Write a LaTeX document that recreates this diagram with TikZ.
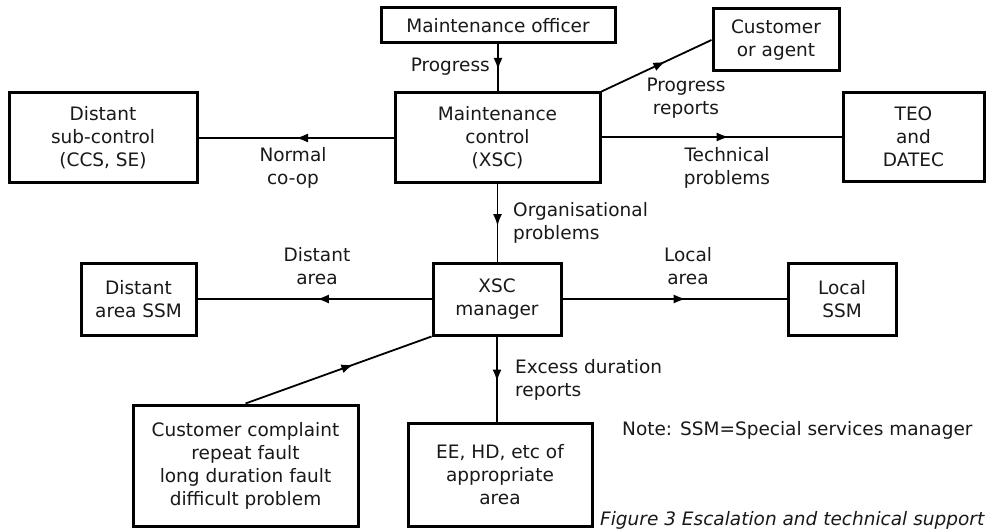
\documentclass[tikz,border=0pt]{standalone}
\usepackage{fontspec}
\setmainfont{DejaVu Sans}
\usetikzlibrary{arrows.meta,decorations.markings}

\tikzset{
  txt/.style={font=\fontsize{18.5}{23}\selectfont, align=center, inner sep=0pt, text=black!90},
  unit/.style={txt, draw, line width=3pt, minimum width=#1},
  link/.style={line width=1.8pt},
  midarrow/.style={link, postaction={decorate}, decoration={markings,
      mark=at position #1 with {\arrow{Latex[length=12pt,width=9pt]}}}},
  midarrow/.default=0.53
}

\begin{document}
\begin{tikzpicture}[x=1pt,y=-1pt]
  \useasboundingbox (0,0) rectangle (987,529);
  \fill[white] (0,0) rectangle (987,529);

  % boxes
  \node[unit=234pt, minimum height=35pt]  (officer) at (498,25.5)  {Maintenance officer};
  \node[unit=126pt, minimum height=62pt]  (agent)   at (776,40)    {Customer\\or agent};
  \node[unit=205pt, minimum height=90pt]  (mc)      at (497.5,138) {Maintenance\\control\\(XSC)};
  \node[unit=188pt, minimum height=90pt]  (dsc)     at (103,138)   {Distant\\sub-control\\(CCS, SE)};
  \node[unit=141pt, minimum height=89pt]  (teo)     at (913.5,137) {TEO\\and\\DATEC};
  \node[unit=128pt, minimum height=72pt]  (xsc)     at (497,299)   {XSC\\manager};
  \node[unit=115pt, minimum height=72pt]  (dssm)    at (138.5,299) {Distant\\area SSM};
  \node[unit=108pt, minimum height=72pt]  (lssm)    at (842,299)   {Local\\SSM};
  \node[unit=225pt, minimum height=121pt] (cust)    at (245.5,465.5) {Customer complaint\\repeat fault\\long duration fault\\difficult problem};
  \node[unit=184pt, minimum height=103pt] (ee)      at (500,474.5) {EE, HD, etc of\\appropriate\\area};

  % connectors
  \draw[midarrow=0.54] (officer.south) -- (officer.south |- mc.north);
  \draw[midarrow=0.58] (mc.north east) -- (agent.west);
  \draw[midarrow=0.50] (mc.west |- dsc.east) -- (dsc.east);
  \draw[midarrow=0.53] (mc.east |- teo.west) -- (teo.west);
  \draw[midarrow=0.54] (mc.south) -- (mc.south |- xsc.north);
  \draw[midarrow=0.49] (xsc.west) -- (dssm.east);
  \draw[midarrow=0.55] (xsc.east) -- (lssm.east -| lssm.west);
  \draw[midarrow=0.53] (xsc.south) -- (xsc.south |- ee.north);
  \draw[midarrow=0.58] (cust.north) -- (xsc.south west);

  % labels
  \node[txt, anchor=east] (lprog)  at (490,67)  {Progress};
  \node[txt]              (lrep)   at (686,98)  {Progress\\reports};
  \node[txt]              (lcoop)  at (293,168) {Normal\\co-op};
  \node[txt]              (ltech)  at (727,168) {Technical\\problems};
  \node[txt, anchor=west, align=left] (lorg) at (513,223) {Organisational\\problems};
  \node[txt]              (ldist)  at (317,266) {Distant\\area};
  \node[txt]              (lloc)   at (688,266) {Local\\area};
  \node[txt, anchor=west, align=left] (lexc) at (515,380) {Excess duration\\reports};
  \node[txt, anchor=west] (note)   at (622,430) {Note: SSM=Special services manager};
  \node[txt, anchor=west, font=\fontsize{18.5}{23}\selectfont\itshape] (cap) at (600,520) {Figure 3 Escalation and technical support};
\end{tikzpicture}
\end{document}
